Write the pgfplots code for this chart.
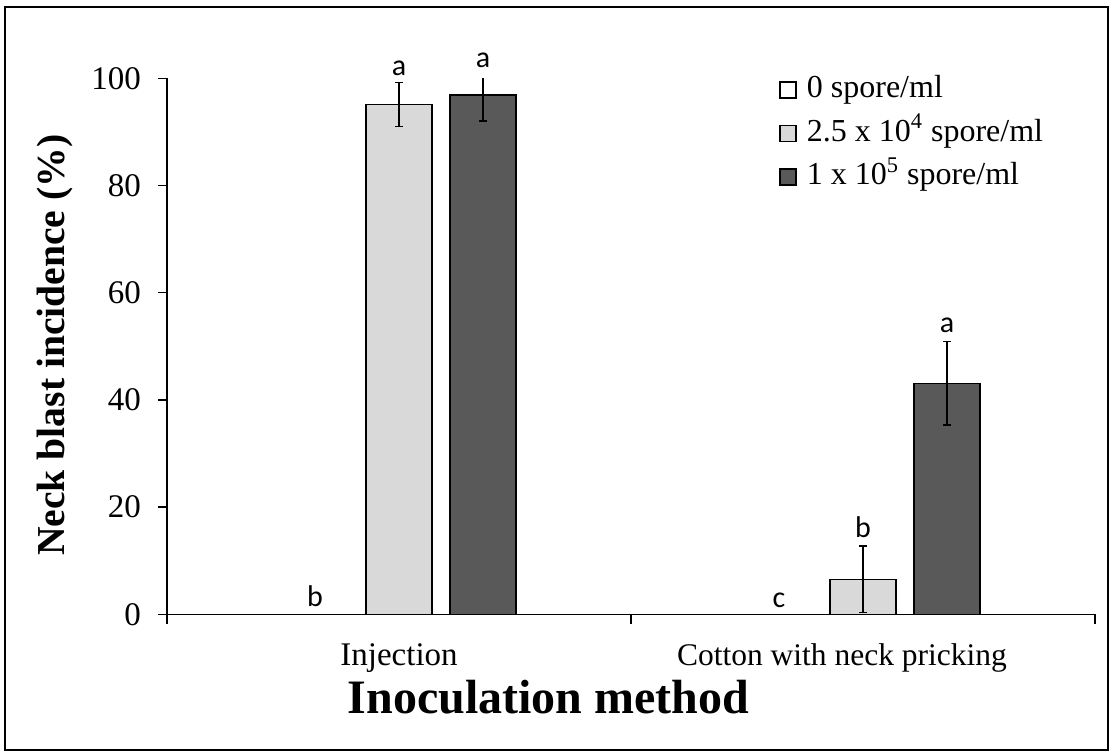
\documentclass[border=0pt]{standalone}
\usepackage{pgfplots}
\pgfplotsset{compat=1.18}
\usepackage{fontspec}
\setmainfont{Liberation Serif}
\newfontfamily\letterfont{Carlito}

\definecolor{barlight}{HTML}{D9D9D9}
\definecolor{bardark}{HTML}{595959}

\begin{document}
\begin{tikzpicture}[x=1pt,y=1pt]
\useasboundingbox (0,0) rectangle (556.5,377.5);
\draw[line width=1pt] (2.5,2.5) rectangle (554,374);
\begin{axis}[
  at={(83.5pt,70.35pt)}, anchor=south west,
  scale only axis, width=464pt, height=268pt,
  xmin=-0.5, xmax=1.5, ymin=0, ymax=100,
  axis x line*=bottom, axis y line*=left,
  axis line style={-, line width=0.75pt, black},
  ybar, bar width=0.142,
  clip mode=individual,
  ytick={0,20,...,100},
  xtick={0,1},
  xticklabels={Injection, {\hspace{-21pt}\fontsize{15.75}{18}\selectfont Cotton with neck pricking}},
  minor xtick={-0.5,0.5,1.5},
  tick align=outside,
  major tick length=4.5pt, minor tick length=5pt,
  tick style={black, line width=0.75pt},
  major x tick style={draw=none},
  ticklabel style={font=\fontsize{16.5}{19}\selectfont},
  /pgf/number format/assume math mode=true,
  yticklabel style={xshift=-5pt},
  xticklabel style={yshift=-6pt, text height=11.5pt, text depth=3.5pt},
  xlabel={Inoculation method},
  ylabel={Neck blast incidence (\%)},
  xlabel style={font=\bfseries\fontsize{24}{28}\selectfont,
    at={(axis description cs:0.411,-0.1543)}, anchor=center},
  ylabel style={font=\bfseries\fontsize{19.8}{24}\selectfont,
    at={(axis description cs:-0.1207,0.502)}, anchor=center},
  error bars/y dir=both, error bars/y explicit,
  error bars/error bar style={line width=0.75pt, black},
  error bars/error mark options={rotate=90, mark size=2pt, line width=0.75pt, black},
  legend style={draw=none, fill=none,
    font=\fontsize{16}{19}\selectfont,
    at={(axis description cs:0.6595,1.009)}, anchor=north west,
    inner sep=0pt, row sep=5.75pt,
    nodes={inner sep=0pt, text height=12pt, text depth=4pt},
    /tikz/every odd column/.append style={column sep=5pt}},
  legend cell align=left,
  legend image code/.code={\draw[#1, draw=black, line width=0.75pt] (0pt,-4pt) rectangle (8pt,4pt);},
]
% 0 spore/ml
\addplot[fill=white, draw=black, line width=0.75pt, bar shift=-0.181]
  coordinates {(0,0) +- (0,0) (1,0) +- (0,0)};
% 2.5 x 10^4 spore/ml
\addplot[fill=barlight, draw=black, line width=0.75pt, bar shift=0]
  coordinates {(0,95.1) +- (0,4.1) (1,6.5) +- (0,6.2)};
% 1 x 10^5 spore/ml
\addplot[fill=bardark, draw=black, line width=0.75pt, bar shift=0.181]
  coordinates {(0,96.9) +- (0,4.9) (1,43.1) +- (0,7.8)};
\legend{0 spore/ml, 2.5 x 10\textsuperscript{4} spore/ml, 1 x 10\textsuperscript{5} spore/ml}

% significance letters
\begin{scope}[every node/.style={font=\letterfont\fontsize{15}{18}\selectfont, anchor=base, inner sep=0pt}]
\node at (axis cs:-0.181,1.4) {b};
\node at (axis cs:0,100.6) {a};
\node at (axis cs:0.181,102.1) {a};
\node at (axis cs:0.819,1.2) {c};
\node at (axis cs:1,14.4) {b};
\node at (axis cs:1.181,52.5) {a};
\end{scope}
\end{axis}
\end{tikzpicture}
\end{document}
